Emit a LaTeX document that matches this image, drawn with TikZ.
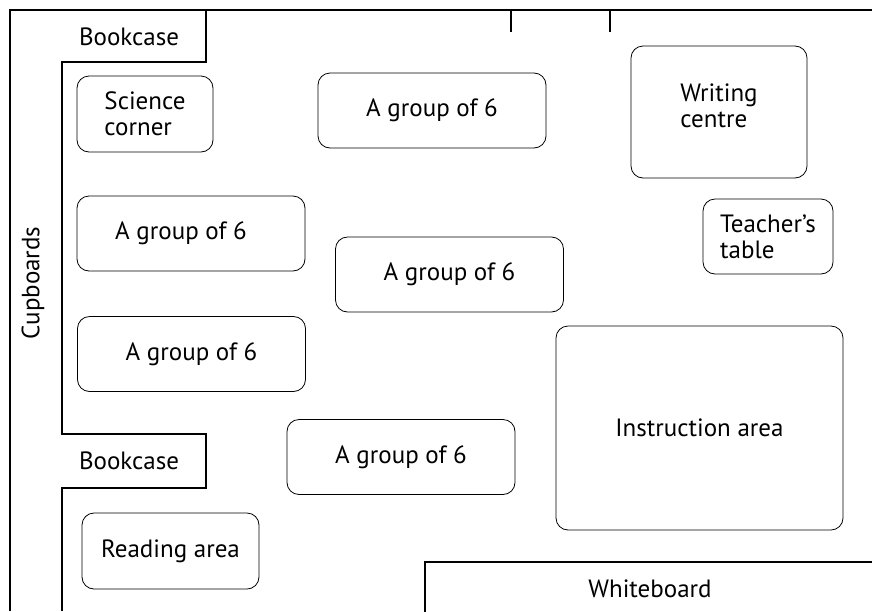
\documentclass[tikz,border=0pt]{standalone}
\usepackage{fontspec}
\setmainfont{PT Sans}
\tikzset{
  room/.style={draw, thin, rounded corners=6pt, align=left, font=\fontsize{12.5}{13}\selectfont},
  grp/.style={room, minimum width=114pt, minimum height=37.5pt},
  wall/.style={line width=0.6pt},
  lbl/.style={font=\fontsize{12.5}{13}\selectfont, inner sep=0pt}
}
\begin{document}
\begin{tikzpicture}[x=0.5pt, y=-0.5pt]
    \useasboundingbox (0,0) rectangle (872,611);
    % outer walls
    \draw[wall] (10,611) -- (10,10) -- (872,10);
    \draw[wall] (206,10) -- (206,62) -- (62,62) -- (62,434) -- (206,434) -- (206,488) -- (62,488) -- (62,611);
    % door
    \draw[wall] (511,32) -- (511,10);
    \draw[wall] (610,32) -- (610,10);
    \draw[line width=1.2pt] (511,10) -- (610,10);
    % whiteboard
    \draw[wall] (425,620) -- (425,562) -- (880,562);
    \node[lbl] (wboard) at (650,589) {Whiteboard};
    % walls labels
    \node[lbl] (bookA) at (129,37) {Bookcase};
    \node[lbl] (bookB) at (129,461) {Bookcase};
    \node[lbl, rotate=90] (cupb) at (33,283) {Cupboards};
    % areas
    \node[room, minimum width=68pt, minimum height=38pt] (science) at (145,114) {Science\\corner};
    \node[room, minimum width=88pt, minimum height=66pt, text depth=6pt] (writing) at (719,112) {Writing\\centre};
    \node[room, minimum width=65pt, minimum height=37.5pt] (teacher) at (768,236.5) {Teacher’s\\table};
    \node[room, minimum width=143.5pt, minimum height=102pt] (instr) at (699.5,428) {Instruction area};
    \node[room, minimum width=88.5pt, minimum height=38pt] (reading) at (170.5,551) {Reading area};
    % groups of 6
    \node[grp] (grpA) at (432,110.5) {A group of 6};
    \node[grp] (grpB) at (191,233.5) {A group of 6\hspace{10pt}};
    \node[grp] (grpC) at (449.5,274.5) {A group of 6};
    \node[grp] (grpD) at (191.5,354) {A group of 6};
    \node[grp] (grpE) at (401,457) {A group of 6};
\end{tikzpicture}
\end{document}
